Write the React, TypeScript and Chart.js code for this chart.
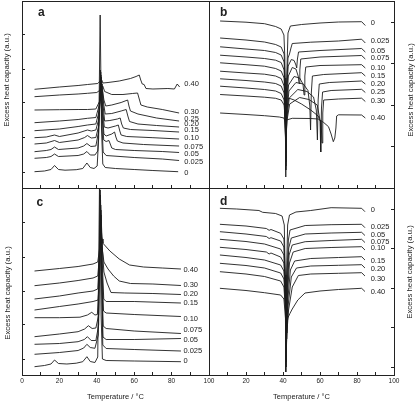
import React, { useEffect, useRef } from 'react';
import { Chart, registerables } from 'chart.js';

Chart.register(...registerables);

type Pt = [number, number];

// ---------------- data (temperature °C, excess heat capacity a.u.) ----------------
const CONC_AB = ['0', '0.025', '0.05', '0.075', '0.10', '0.15', '0.20', '0.25', '0.30', '0.40'];
const CONC_CD = ['0', '0.025', '0.05', '0.075', '0.10', '0.15', '0.20', '0.30', '0.40'];

const X_TICKS = [0, 10, 20, 30, 40, 50, 60, 70, 80, 90, 100];
const X_LABELS_C = ['0', '', '20', '', '40', '', '60', '', '80', '', '100'];
const X_LABELS_D = ['', '', '20', '', '40', '', '60', '', '80', '', '100'];

const Y_TICKS_A = [16, 51, 85, 119, 153];
const Y_TICKS_B = [41.3, 83, 124.7, 165.3];
const Y_TICKS_C = [16, 51, 84, 118, 152];
const Y_TICKS_D = [7.3, 47.3, 86.7, 126.7, 166];

// panel a: heating scans
const CURVES_A: Pt[][] = [
  [[6.7,16.3],[12,17],[15.5,18.5],[17.4,22.5],[19.5,18.5],[23,17.8],[29,18.3],[32.5,19.5],[34.7,25],[36.5,20.5],[38.5,19.5],[40.2,22],[41,50],[41.8,173],[42.5,60],[43.2,24],[44.5,20.5],[50,19.5],[60,18.5],[70,17.5],[83.5,16.3]],
  [[6.7,29.7],[13,30.5],[15.5,31.5],[17.4,34],[19.5,31.5],[30,32.5],[33,34],[34.7,36.5],[36.5,33],[39,33],[40.5,37],[41.3,70],[41.9,118],[42.6,70],[43.4,36],[45,32.5],[60,30.5],[75,29],[84,27.5]],
  [[6.7,36.3],[13,37.5],[15.5,38.5],[17.4,41],[19.5,38.5],[30,40],[33,42],[34.7,44.5],[36.8,41.5],[39.5,42],[40.8,55],[42.1,116],[42.9,70],[43.7,48],[45,46.5],[46.5,47.5],[47.2,44],[48,40],[50,38.5],[60,37.5],[75,36.5],[84,35.5]],
  [[6.7,44],[13,45],[17.4,47.5],[20,45.5],[30,48],[33.5,50.5],[35,52.5],[37,50],[39.5,50.5],[41,62],[42.2,113],[43,75],[43.8,54],[45,52],[48,54],[49.5,56],[50.2,51],[51,47],[54,45],[65,43.5],[84,42]],
  [[6.7,50.3],[13,51],[17.4,53],[20,51.5],[30,55],[35,58],[37,57],[39.5,58],[41.2,70],[42.4,111],[43.2,78],[44,61],[46,60],[50,62],[51.5,63],[52.3,57],[53,53],[56,51.5],[70,50.3],[84,49]],
  [[6.7,57.3],[20,59],[30,61.5],[35,63],[39.5,64],[41.4,78],[42.6,108],[43.4,82],[44.2,67],[47,67.5],[51,69],[52.5,70],[53.3,64],[54.2,60],[58,58.5],[70,57.5],[84,56]],
  [[6.7,65.3],[20,67],[30,68.5],[35,69.7],[39.5,70.5],[41.6,85],[42.8,104],[43.6,85],[44.5,74],[48,74.5],[53,77],[55.7,78.5],[56.6,72],[57.5,66.5],[62,64],[72,62.5],[84,61]],
  [[6.7,78],[20,78.3],[30,78.5],[35,78.5],[39.5,79],[41.8,88],[43,98],[43.8,88],[44.8,82],[48,83],[53,85.5],[56.5,88],[57.2,82],[58,77],[62,74],[72,70],[84,67]],
  [[6.7,91.3],[20,93],[30,94],[35,94.7],[40,95.5],[41.8,98],[43.2,102],[44.2,96.5],[48,93.5],[54,93.5],[59,94.5],[61.8,95],[62.7,89],[63.6,83],[67,81],[75,78.5],[84,75]],
  [[6.7,98.7],[20,101],[30,102.5],[35,103.5],[40.5,104.5],[41.8,107],[42.5,108],[43.3,105],[46,105.5],[52,107],[58,109.5],[61,111.5],[62.7,113],[63.5,108],[64.3,104],[65.3,103.5],[66.3,99.5],[70,99],[78,99.5],[81.5,99],[83,104],[84.3,101]],
];
const LABEL_Y_A = [14.7, 26.3, 34.5, 41, 50, 58.5, 64, 69.5, 76.5, 104];

// panel b: cooling scans
const CURVES_B: Pt[][] = [
  [[6,167],[20,165.8],[30,164.3],[36,161.5],[39,159],[40.5,153],[41,130],[41.5,11],[42,110],[42.7,155],[44,162],[50,163.5],[60,165],[70,166],[82.5,166.3],[84.5,162.5]],
  [[6,150],[20,148],[30,146],[36,143.5],[39,141],[40.6,134],[41.1,110],[41.5,18],[42,100],[42.7,130],[43.5,134],[44.3,140],[45,144.5],[55,145.8],[70,147],[82.5,148.8],[84.5,145]],
  [[6,141.2],[20,139],[30,137.5],[36,135.5],[39,133],[40.6,126],[41.1,100],[41.5,22],[42,95],[42.8,122],[44.5,128.5],[46,127.5],[47,123],[47.4,120],[47.8,129],[48.4,136],[60,137.5],[82.5,139.5],[84.5,136]],
  [[6,132.8],[20,131],[30,129.5],[36,127.8],[39,125.5],[40.6,118],[41.1,90],[41.5,26],[42,85],[42.9,112],[45,120.5],[47,119],[48.2,112],[48.7,104.5],[49.1,118],[49.6,129],[60,131],[82.5,132.5],[84.5,129]],
  [[6,125.2],[20,123.3],[30,121.8],[36,119.5],[39,117],[40.6,110],[41.1,85],[41.5,30],[42,80],[43,103],[46,111.5],[49,110],[50.8,104],[51.4,93],[51.8,112],[52.3,121],[60,122.5],[82.5,123.3],[84.5,120]],
  [[6,116.8],[20,115],[30,113.8],[36,112],[39,109.5],[40.6,102],[41.1,80],[41.5,35],[42.1,75],[43.2,97],[47,105.5],[51,104],[53.5,97.5],[54.5,82],[54.9,58],[55.3,95],[55.9,112],[62,113.5],[82.5,115.3],[84.5,112]],
  [[6,109.2],[20,107.5],[30,106],[36,104.5],[39,102],[40.6,95],[41.1,75],[41.5,40],[42.1,70],[43.4,90],[48,98.5],[53,96.5],[56.5,91],[58,78],[58.6,48],[59,88],[59.6,104],[65,105.5],[82.5,107],[84.5,104]],
  [[6,101.8],[20,100],[30,98.5],[36,97],[39,94.5],[40.6,88],[41.1,72],[41.5,45],[42.2,68],[43.6,84],[49,90.5],[54,88.5],[58.5,83],[60,68],[60.4,36],[60.8,80],[61.4,96],[66,97.5],[82.5,98.7],[84.5,95.5]],
  [[6,93.5],[20,92],[30,90.8],[36,89.7],[39,88],[40.6,83],[41.1,70],[41.5,52],[42.2,80],[43,90],[46,88],[50,84],[55,78],[59,72],[60.6,65],[61.1,45],[61.5,75],[62,88],[70,89],[82.5,89.8],[84.5,86.5]],
  [[6,75],[20,73.5],[30,72.3],[38,71],[40.5,70],[41.2,66],[41.5,60],[41.9,68],[45,69.7],[55,69.5],[59,69],[62,65.5],[64.6,61.3],[66,54],[67.2,46.3],[68,50],[68.6,60],[69,72],[70,73.2],[82.5,73],[84.5,70]],
];
const LABEL_Y_B = [165.3, 147.5, 137, 130.5, 120.5, 112.5, 104.5, 96.5, 87.5, 70];

// panel c: heating scans
const CURVES_C: Pt[][] = [
  [[6.7,8.3],[12,9.5],[15.5,11],[17.4,15],[19.5,11.5],[24,11],[29,11.8],[32.5,13.3],[34.7,18.3],[36.5,13.5],[39,12.5],[40.5,18],[41.5,200],[42.3,60],[43,16],[45,14.5],[60,14],[85,13.3]],
  [[6.7,20.7],[20,22.5],[30,24.5],[33,27],[34.7,30.7],[36.5,27.5],[39,26.7],[40.8,40],[41.8,185],[42.5,100],[43.2,30],[45,26.5],[60,25.5],[85,24]],
  [[6.7,30.7],[20,31.5],[30,33.3],[33.3,35.5],[35,38.3],[37,34.5],[39.5,34.5],[41,50],[41.9,180],[42.6,100],[43.3,38],[45,35.5],[60,35.5],[85,36.5]],
  [[6.7,38.3],[20,41],[30,43.3],[33.5,46],[35.5,49.3],[37.5,46.5],[39.5,47],[41,60],[42,175],[42.7,100],[43.4,49],[45,46.5],[60,44],[85,41.5]],
  [[6.7,57.3],[20,57.3],[31,57.8],[35,60],[37.3,62.7],[39,60],[40.3,60.5],[41.2,90],[42.1,170],[42.9,100],[43.6,64],[45,62],[60,60.5],[85,58.5]],
  [[6.7,65],[20,68.5],[30,71],[38,73.5],[40.7,75],[41.5,110],[42.2,165],[43,110],[43.7,76],[45,73.5],[60,73.5],[85,72]],
  [[6.7,76],[20,79],[30,82],[38,84],[40.5,86],[41.5,120],[42.3,160],[43,125],[43.8,103],[45.5,92],[47.6,82.5],[55,82],[70,81.5],[85,80.5]],
  [[6.7,89.3],[20,92],[30,94.5],[38,97],[40.5,99],[41.5,120],[42.3,150],[43,125],[43.8,113],[46,106],[49,99],[52,94],[58,91.5],[70,91],[85,89.5]],
  [[6.7,104],[20,106.5],[30,108.5],[38,111],[40.5,113],[41.4,125],[42.2,140],[42.8,136],[43.3,131.7],[47,124],[52,116],[57.5,110],[65,108],[75,107],[85,106]],
];
const LABEL_Y_C = [14.3, 24, 35, 45, 56, 72.3, 80.7, 90, 105];

// panel d: cooling scans
const CURVES_D: Pt[][] = [
  [[5.9,166.7],[15,166],[27,164.5],[29,162.7],[36,161.5],[39.5,159],[40.7,150],[41.2,100],[41.5,3],[41.9,100],[42.5,150],[43.5,160],[47,163],[55,164.5],[66,167.3],[82.5,166.7],[84.3,163.3]],
  [[5.9,150.7],[20,149],[31,146.5],[32.5,144.7],[33.5,145.5],[38.7,141.7],[40.5,136],[41.2,100],[41.6,8],[42.1,95],[42.9,135],[43.8,145],[52,149.5],[66,150.3],[82.5,150.7],[84.3,147.3]],
  [[5.9,143.3],[20,141],[31,138.5],[32.5,136.5],[33.5,137.3],[38.7,134],[40.5,128],[41.2,90],[41.7,13],[42.2,88],[43.1,127],[44.5,137],[52,141],[66,142],[82.5,142.7],[84.3,139.5]],
  [[5.9,135.7],[20,133.5],[30,131],[38.7,126],[40.5,120],[41.3,85],[41.7,18],[42.3,85],[43.3,120],[45,130],[52,133.3],[66,134.5],[82.5,135.7],[84.3,132.5]],
  [[5.9,127.7],[20,125.5],[31,123],[32.5,121],[33.5,122],[38.7,118],[40.5,112],[41.3,80],[41.8,24],[42.4,80],[43.5,112],[45.5,123],[52,126.5],[66,127.5],[82.5,128.3],[84.3,125]],
  [[5.9,120],[20,117.5],[30,115],[38.7,110],[40.5,104],[41.3,75],[41.9,30],[42.6,75],[44,105],[46.3,114],[55,116.5],[70,117.5],[82.5,118.3],[84.3,115]],
  [[5.9,111.7],[20,109.5],[30,107],[38.7,102],[40.5,96],[41.4,70],[42,36],[42.8,70],[44.5,98],[47.3,107],[55,109],[70,109.7],[82.5,110.3],[84.3,107]],
  [[5.9,103.3],[20,101],[30,98.5],[38.7,94],[40.5,88],[41.5,60],[42.1,42],[43,65],[45,88],[48.3,99.5],[55,101],[70,101.7],[82.5,102.3],[84.3,99]],
  [[5.9,86.7],[20,84.5],[30,82.3],[38.7,80],[40.5,76],[41.3,58],[41.9,46],[42.6,57],[43.8,61.7],[45,66],[48,75],[51.9,82],[60,84],[70,85.5],[82.5,86.7],[84.3,83.5]],
];
const LABEL_Y_D = [165, 148.3, 140, 133.3, 126.7, 114.3, 106, 96, 83.3];

// ---------------- layout / style ----------------
const FONT = '"Liberation Sans", Arial, Helvetica, sans-serif';
const INK = '#222';
const LINE = '#1c1c1c';
const Y_TITLE = 'Excess heat capacity (a.u.)';
const X_TITLE = 'Temperature / °C';

interface PanelSpec {
  letter: string;
  conc: string[];
  curves: Pt[][];
  labelY: number[];
  labelX: number;
  yTicks: number[];
  side: 'left' | 'right';
  xLabels: string[] | null;
  box: { left: number; top: number; width: number; height: number };
  area: { left: number; top: number; right: number; bottom: number };
  letterPos: [number, number];
  titlePos: [number, number];
}

const PANELS: PanelSpec[] = [
  {
    letter: 'a', conc: CONC_AB, curves: CURVES_A, labelY: LABEL_Y_A, labelX: 86.8, yTicks: Y_TICKS_A,
    side: 'left', xLabels: null,
    box: { left: 0, top: 0, width: 225, height: 195 },
    area: { left: 22, top: 1, right: 209, bottom: 188 },
    letterPos: [38, 16], titlePos: [6.7, 80],
  },
  {
    letter: 'b', conc: CONC_AB, curves: CURVES_B, labelY: LABEL_Y_B, labelX: 87.4, yTicks: Y_TICKS_B,
    side: 'right', xLabels: null,
    box: { left: 196, top: 0, width: 219, height: 195 },
    area: { left: 13, top: 1, right: 198, bottom: 188 },
    letterPos: [24, 16], titlePos: [215, 90],
  },
  {
    letter: 'c', conc: CONC_CD, curves: CURVES_C, labelY: LABEL_Y_C, labelX: 86.3, yTicks: Y_TICKS_C,
    side: 'left', xLabels: X_LABELS_C,
    box: { left: 0, top: 181, width: 225, height: 221 },
    area: { left: 22, top: 7, right: 209, bottom: 194 },
    letterPos: [36.5, 24.5], titlePos: [8, 112],
  },
  {
    letter: 'd', conc: CONC_CD, curves: CURVES_D, labelY: LABEL_Y_D, labelX: 87.4, yTicks: Y_TICKS_D,
    side: 'right', xLabels: X_LABELS_D,
    box: { left: 196, top: 181, width: 219, height: 221 },
    area: { left: 13, top: 7, right: 198, bottom: 194 },
    letterPos: [24, 24], titlePos: [214, 91],
  },
];

function makeAnnotPlugin(p: PanelSpec) {
  return {
    id: 'annot',
    afterDatasetsDraw(chart: any) {
      const ctx: CanvasRenderingContext2D = chart.ctx;
      const xs = chart.scales.x;
      const ys = chart.scales.y;
      ctx.save();
      ctx.fillStyle = INK;
      ctx.font = `7.5px ${FONT}`;
      ctx.textAlign = 'left';
      ctx.textBaseline = 'middle';
      p.conc.forEach((t, i) => {
        ctx.fillText(t, xs.getPixelForValue(p.labelX), ys.getPixelForValue(p.labelY[i]));
      });
      ctx.font = `bold 12px ${FONT}`;
      ctx.textBaseline = 'alphabetic';
      ctx.fillText(p.letter, p.letterPos[0], p.letterPos[1]);
      ctx.translate(p.titlePos[0], p.titlePos[1]);
      ctx.rotate(-Math.PI / 2);
      ctx.font = `7.8px ${FONT}`;
      ctx.textAlign = 'center';
      ctx.textBaseline = 'middle';
      ctx.fillText(Y_TITLE, 0, 0);
      ctx.restore();
    },
  };
}

function buildConfig(p: PanelSpec): any {
  const leftW = p.area.left;
  const rightW = p.box.width - p.area.right;
  const topH = p.area.top;
  const bottomH = p.box.height - p.area.bottom;
  const tickGrid = {
    display: true, drawOnChartArea: false, drawTicks: true, tickLength: -3,
    tickColor: INK, tickWidth: 1, color: INK, lineWidth: 1,
  };
  const plainGrid = { display: true, drawOnChartArea: false, drawTicks: false, color: INK, lineWidth: 1 };
  const border = { display: true, color: INK, width: 1 };
  const other = p.side === 'left' ? 'right' : 'left';

  return {
    type: 'line',
    data: {
      datasets: p.curves.map((pts, i) => ({
        label: p.conc[i],
        data: pts.map(([x, y]) => ({ x, y })),
        borderColor: LINE,
        borderWidth: 0.9,
        pointRadius: 0,
        pointHoverRadius: 0,
        tension: 0,
        fill: false,
        borderJoinStyle: 'round',
      })),
    },
    options: {
      animation: false,
      responsive: false,
      devicePixelRatio: 1,
      events: [],
      layout: { padding: 0 },
      plugins: { legend: { display: false }, tooltip: { enabled: false } },
      scales: {
        x: {
          type: 'linear', position: 'bottom', min: 0, max: 100,
          afterBuildTicks: (s: any) => { s.ticks = X_TICKS.map((v) => ({ value: v })); },
          ticks: {
            display: !!p.xLabels, autoSkip: false, maxRotation: 0, minRotation: 0, padding: 5.8,
            color: INK, font: { family: FONT, size: 6.5 },
            callback: (_v: any, i: number) => (p.xLabels ? p.xLabels[i] : ''),
          },
          grid: tickGrid,
          border,
          title: p.xLabels
            ? { display: true, text: X_TITLE, color: INK, font: { family: FONT, size: 7.5 }, padding: { top: 0, bottom: 0.8 } }
            : { display: false },
          afterFit: (s: any) => { s.height = bottomH; },
        },
        xTop: {
          type: 'linear', position: 'top', min: 0, max: 100,
          ticks: { display: false },
          grid: plainGrid,
          border,
          afterFit: (s: any) => { s.height = topH; },
        },
        y: {
          type: 'linear', position: p.side, min: 0, max: 187,
          afterBuildTicks: (s: any) => { s.ticks = p.yTicks.map((v) => ({ value: v })); },
          ticks: { display: false },
          grid: tickGrid,
          border,
          afterFit: (s: any) => { s.width = p.side === 'left' ? leftW : rightW; },
        },
        yOther: {
          type: 'linear', position: other, min: 0, max: 187,
          ticks: { display: false },
          grid: plainGrid,
          border,
          afterFit: (s: any) => { s.width = other === 'left' ? leftW : rightW; },
        },
      },
    },
    plugins: [makeAnnotPlugin(p)],
  };
}

function Panel({ p }: { p: PanelSpec }) {
  const ref = useRef<HTMLCanvasElement>(null);
  useEffect(() => {
    if (!ref.current) return;
    const chart = new Chart(ref.current, buildConfig(p));
    return () => chart.destroy();
  }, [p]);
  return (
    <canvas
      ref={ref}
      width={p.box.width}
      height={p.box.height}
      style={{ position: 'absolute', left: p.box.left, top: p.box.top, width: p.box.width, height: p.box.height }}
    />
  );
}

export default function App() {
  return (
    <div style={{ position: 'absolute', left: 0, top: 0, width: 415, height: 402, background: '#fff', overflow: 'hidden' }}>
      {PANELS.map((p) => (
        <Panel key={p.letter} p={p} />
      ))}
    </div>
  );
}
